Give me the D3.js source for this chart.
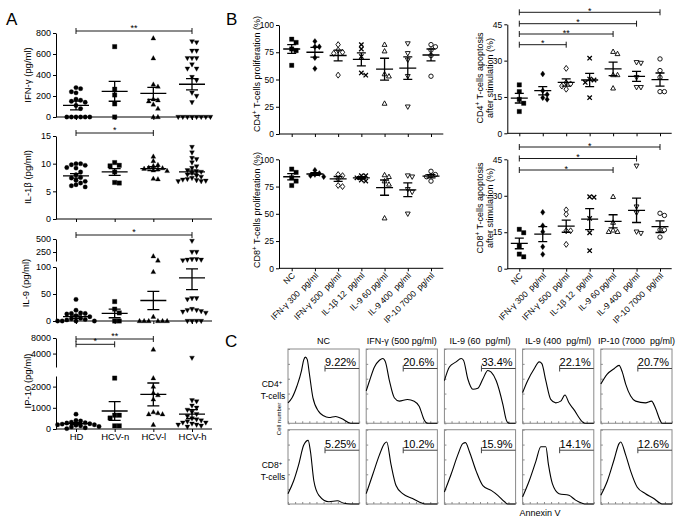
<!DOCTYPE html>
<html>
<head>
<meta charset="utf-8">
<script src="https://cdn.jsdelivr.net/npm/d3@7"></script>
<style>
  body { margin: 0; background: #fff; }
  svg { font-family: 'Liberation Sans', Arial, Helvetica, sans-serif; }
</style>
</head>
<body>
<svg id="fig" width="683" height="524"></svg>
<script>
// ---------- Panel A data (pg/ml) ----------
const groupsA = ['HD', 'HCV-n', 'HCV-l', 'HCV-h'];
const shapesA = ['circle', 'square', 'up', 'down'];

const ifnPoints = [
    [280, 270, 240, 230, 170, 160, 150, 140, 110, 80, 0, 0, 0, 0, 0, 0],
    [670, 265, 210, 125, 0],
    [750, 560, 310, 290, 170, 160, 150, 120, 80, 0, 0],
    [720, 710, 630, 630, 560, 560, 560, 500, 460, 460, 380, 350, 230, 200, 140, 0, 0, 0, 0, 0, 0, 0, 0]
];
const ifnMean = [110, 245, 225, 312];
const ifnSem = [42, 95, 58, 53];

const il1bPoints = [
    [10, 10, 9.8, 9.7, 9.3, 9.2, 8.5, 8, 7.5, 7.4, 7, 6.8, 6.5, 6.2, 6, 5.8],
    [10.2, 9.7, 9.6, 8.5, 6.6, 6.5],
    [11.3, 10.5, 9.8, 9.6, 9.3, 9.2, 9.1, 9.0, 8.8, 8.7, 7.3, 7.2],
    [13, 12, 11, 10.8, 10.2, 9.5, 9.2, 8.8, 8.6, 8.5, 8.3, 8, 7.8, 7.6, 7.4, 7.2, 7.1, 7, 6.9, 6.8, 6.8]
];
const il1bMean = [7.8, 8.5, 9.1, 8.5];
const il1bSem = [0.4, 0.6, 0.35, 0.35];

const il9Points = [
    [40, 20, 15, 14, 14, 13, 10, 8, 5, 4, 3, 2, 0, 0, 0, 0],
    [36, 22, 15, 0, 0],
    [200, 160, 91, 8, 0, 0, 0, 0, 0, 0],
    [450, 250, 250, 170, 170, 165, 165, 160, 42, 42, 40, 22, 20, 20, 18, 17, 15, 0, 0, 0, 0]
];
const il9Mean = [8, 14, 38, 80];
const il9Sem = [3, 8, 17, 22];

const ip10Points = [
    [700, 400, 380, 320, 300, 280, 250, 230, 200, 200, 180, 150, 120, 100, 60, 20],
    [2400, 650, 650, 520, 150, 150],
    [4800, 2400, 2000, 1700, 1600, 1400, 800, 750, 700, 700, 200],
    [3300, 1350, 1300, 1100, 1000, 900, 800, 700, 600, 500, 450, 400, 350, 300, 300, 250, 200, 200, 150, 100]
];
const ip10Mean = [250, 850, 1630, 700];
const ip10Sem = [45, 440, 540, 210];

// ---------- Panel B data (%) ----------
const treatB = ['NC', 'IFN-\u03b3 300\u00a0 pg/ml', 'IFN-\u03b3 500\u00a0 pg/ml', 'IL-1\u03b2 12\u00a0 pg/ml',
    'IL-9 60 pg/ml', 'IL-9 400\u00a0 pg/ml', 'IP-10 7000\u00a0 pg/ml'];
const shapesB = ['square', 'diamond', 'diamond', 'x', 'up', 'down', 'circle'];
const filledB = [true, true, false, false, false, false, false];

const cd4ProPoints = [
    [87, 84, 78, 76.5, 63], [85, 80, 80, 70, 60], [82, 77, 75, 74, 54], [82, 78, 71, 56, 54],
    [82, 76, 55, 53, 28], [83, 74, 68, 53, 25], [82, 80, 77, 72, 53]
];
const cd4ProMean = [78, 75, 72, 68.5, 59.5, 60.5, 72.5];
const cd4ProSem = [4, 4.5, 5, 6, 10, 10.3, 5.5];

const cd8ProPoints = [
    [91, 88, 83, 80, 76], [90, 87, 86, 85, 84], [86, 85, 82, 76, 75], [85, 85, 83, 81, 80],
    [85.6, 84, 80, 77, 46], [85, 84, 72.5, 70, 50], [89, 86, 85, 84, 80]
];
const cd8ProMean = [84, 86.5, 82, 83, 74, 72, 84.5];
const cd8ProSem = [2.8, 1.3, 2.2, 1.1, 7, 6.3, 1.5];

const cd4ApoPoints = [
    [20, 17.2, 14, 12.4, 9], [24.5, 17.6, 16, 14.7, 14], [26.8, 20.9, 20.4, 19.5, 18.2], [31, 22.4, 22, 21, 14.7],
    [33.7, 32.8, 24.1, 24.1, 18.6], [29.3, 29, 23.1, 19, 19], [30.7, 25.9, 23.1, 17.2, 17.2]
];
const cd4ApoMean = [14.5, 17.6, 21, 22, 26.6, 23.5, 22.2];
const cd4ApoSem = [2, 1.7, 1.5, 2.7, 2.8, 2.1, 2.7];

const cd8ApoPoints = [
    [16.2, 14.8, 9.3, 6, 4.9], [23.2, 17.7, 15.2, 9, 5.9], [24.2, 22.4, 15.6, 15.6, 10], [29.6, 29.4, 20.7, 14.8, 7.4],
    [29.6, 19, 15.8, 15.2, 15.2], [42.3, 25.5, 23, 15.2, 14.6], [22.8, 21.9, 16, 16, 13]
];
const cd8ApoMean = [10.4, 14.2, 17.5, 20.4, 19.5, 24, 17.3];
const cd8ApoSem = [2.2, 3.1, 2.5, 4.3, 2.7, 5, 2.4];

// ---------- Panel C data ----------
const titlesC = ['NC', 'IFN-\u03b3 (500 pg/ml)', 'IL-9 (60\u00a0 pg/ml)', 'IL-9 (400\u00a0 pg/ml)', 'IP-10 (7000\u00a0 pg/ml)'];
const cd4Pct = ['9.22%', '20.6%', '33.4%', '22.1%', '20.7%'];
const cd8Pct = ['5.25%', '10.2%', '15.9%', '14.1%', '12.6%'];
// histogram outlines, [annexin (0-1), cell number (0-1)]
const cd4Curves = [
    [[0,0.275],[0.057,0.344],[0.127,0.505],[0.19,0.71],[0.22,0.85],[0.245,0.89],[0.27,0.86],[0.30,0.67],[0.35,0.344],[0.43,0.16],[0.50,0.10],[0.575,0.078],[0.67,0.092],[0.76,0.06],[0.88,0],[1,0]],
    [[0,0.436],[0.047,0.573],[0.116,0.757],[0.186,0.849],[0.233,0.872],[0.27,0.826],[0.326,0.573],[0.395,0.344],[0.465,0.298],[0.58,0.32],[0.674,0.298],[0.744,0.23],[0.814,0.046],[0.84,0.01],[0.87,0],[1,0]],
    [[0,0.573],[0.07,0.757],[0.164,0.826],[0.235,0.872],[0.268,0.849],[0.329,0.596],[0.4,0.459],[0.47,0.472],[0.54,0.596],[0.61,0.711],[0.657,0.688],[0.728,0.573],[0.822,0.252],[0.869,0.046],[0.89,0.01],[0.92,0],[1,0]],
    [[0,0.413],[0.07,0.573],[0.163,0.734],[0.233,0.826],[0.27,0.803],[0.326,0.573],[0.395,0.321],[0.465,0.275],[0.535,0.298],[0.595,0.381],[0.651,0.275],[0.721,0.183],[0.837,0.023],[0.874,0],[1,0]],
    [[0,0.528],[0.093,0.665],[0.186,0.734],[0.256,0.78],[0.302,0.688],[0.349,0.528],[0.419,0.367],[0.488,0.298],[0.628,0.275],[0.712,0.298],[0.767,0.206],[0.837,0.032],[0.86,0],[1,0]]
];
const cd8Curves = [
    [[0,0.139],[0.08,0.313],[0.15,0.53],[0.22,0.79],[0.283,0.857],[0.316,0.704],[0.363,0.313],[0.434,0.117],[0.575,0.03],[0.693,0.043],[0.788,0.009],[0.88,0],[1,0]],
    [[0,0.139],[0.093,0.4],[0.186,0.661],[0.256,0.813],[0.288,0.835],[0.349,0.53],[0.419,0.248],[0.512,0.139],[0.651,0.074],[0.791,0.009],[0.84,0],[1,0]],
    [[0,0.161],[0.094,0.4],[0.188,0.661],[0.258,0.813],[0.296,0.826],[0.352,0.704],[0.446,0.443],[0.54,0.248],[0.657,0.183],[0.75,0.117],[0.845,0.03],[0.89,0],[1,0]],
    [[0,0.096],[0.093,0.313],[0.186,0.574],[0.256,0.77],[0.326,0.77],[0.363,0.53],[0.419,0.27],[0.512,0.139],[0.651,0.117],[0.744,0.052],[0.837,0.009],[0.87,0],[1,0]],
    [[0,0.117],[0.093,0.313],[0.186,0.596],[0.256,0.813],[0.279,0.835],[0.349,0.661],[0.419,0.443],[0.512,0.226],[0.628,0.139],[0.744,0.074],[0.837,0.009],[0.87,0],[1,0]]
];

const svg = d3.select('#fig');

function shapePath(t, r) {
    switch (t) {
        case 'circle': return `M${r},0A${r},${r} 0 1,1 ${-r},0A${r},${r} 0 1,1 ${r},0Z`;
        case 'square': return `M${-r},${-r}H${r}V${r}H${-r}Z`;
        case 'up': return `M0,${-1.2 * r}L${1.1 * r},${0.8 * r}L${-1.1 * r},${0.8 * r}Z`;
        case 'down': return `M0,${1.2 * r}L${1.1 * r},${-0.8 * r}L${-1.1 * r},${-0.8 * r}Z`;
        case 'diamond': return `M0,${-1.35 * r}L${r},0L0,${1.35 * r}L${-r},0Z`;
        case 'x': return `M${-r},${-r}L${r},${r}M${r},${-r}L${-r},${r}`;
    }
}

// spread points that would overlap, like a GraphPad scatter
function swarm(values, cx, yPix, step) {
    const placed = [];
    return values.map(v => {
        const y = yPix(v);
        let k = 0, x;
        while (true) {
            const off = k === 0 ? 0 : (k % 2 ? 1 : -1) * Math.ceil(k / 2) * step;
            x = cx + off;
            if (!placed.some(p => Math.abs(p[0] - x) < step * 0.95 && Math.abs(p[1] - y) < step * 0.95)) break;
            k++;
        }
        placed.push([x, y]);
        return [x, y];
    });
}

function styleAxis(sel, size) {
    sel.attr('font-size', size).attr('font-family', null);
    sel.selectAll('line, path').attr('stroke', '#000');
    sel.selectAll('text').attr('fill', '#000');
}

function dotPlot(c) {
    const g = svg.append('g');
    const x = d3.scalePoint().domain(c.groups).range(c.xr);
    const yPix = v => (c.breakAt !== undefined && v > c.breakAt) ? c.axes[1].scale(v) : c.axes[0].scale(v);
    const base = c.axes[0].scale.range()[0];

    c.axes.forEach(a => {
        g.append('g')
            .attr('transform', `translate(${c.x0},0)`)
            .call(d3.axisLeft(a.scale).tickValues(a.ticks).tickSize(3).tickSizeOuter(0).tickPadding(2).tickFormat(d3.format('d')))
            .call(s => styleAxis(s, c.tickFont));
    });

    g.append('line').attr('x1', c.x0).attr('x2', c.x1).attr('y1', base).attr('y2', base)
        .attr('stroke', '#000');

    g.append('g')
        .attr('transform', `translate(0,${base})`)
        .call(d3.axisBottom(x).tickSize(3).tickPadding(1).tickFormat(c.xLabels === 'plain' ? (d => d) : ''))
        .call(s => s.select('.domain').remove())
        .call(s => styleAxis(s, 9.5));

    if (c.xLabels === 'rotated') {
        g.selectAll('.rot').data(c.groups).enter().append('text')
            .attr('transform', d => `translate(${x(d) + 2},${base + 6}) rotate(-45)`)
            .attr('text-anchor', 'end')
            .attr('dy', '0.3em')
            .attr('font-size', 8.5)
            .text(d => d);
    }

    c.points.forEach((vals, gi) => {
        const pos = swarm(vals, x(c.groups[gi]), yPix, c.step);
        const filled = c.filled ? c.filled[gi] : true;
        const isX = c.shapes[gi] === 'x';
        g.append('g').selectAll('path').data(pos).enter().append('path')
            .attr('transform', d => `translate(${d[0]},${d[1]})`)
            .attr('d', shapePath(c.shapes[gi], c.r))
            .attr('fill', isX ? 'none' : (filled ? '#000' : '#fff'))
            .attr('stroke', '#000')
            .attr('stroke-width', isX ? 1.3 : (filled ? 0.3 : 0.9));
    });

    c.groups.forEach((grp, gi) => {
        const cx = x(grp);
        const m = yPix(c.mean[gi]);
        const hi = yPix(c.mean[gi] + c.sem[gi]);
        const lo = yPix(c.mean[gi] - c.sem[gi]);
        g.append('path')
            .attr('d', `M${cx - c.meanW},${m}H${cx + c.meanW}M${cx},${hi}V${lo}M${cx - c.capW},${hi}H${cx + c.capW}M${cx - c.capW},${lo}H${cx + c.capW}`)
            .attr('fill', 'none').attr('stroke', '#000').attr('stroke-width', 1.3);
    });

    (c.brackets || []).forEach((b, i) => {
        const yb = c.bracketY[i];
        const xa = x(c.groups[b[0]]), xb = x(c.groups[b[1]]);
        g.append('path')
            .attr('d', `M${xa},${yb - 3}V${yb + 3}M${xa},${yb}H${xb}M${xb},${yb - 3}V${yb + 3}`)
            .attr('fill', 'none').attr('stroke', '#000').attr('stroke-width', 0.9);
        g.append('text').attr('x', (xa + xb) / 2).attr('y', yb + c.starDy)
            .attr('text-anchor', 'middle').attr('font-size', 9).text(b[2]);
    });

    c.title.forEach((line, li) => {
        const t = g.append('text')
            .attr('transform', `translate(${c.titleX + li * 10.5},${c.titleY}) rotate(-90)`)
            .attr('text-anchor', 'middle')
            .attr('font-size', c.titleFont);
        line.forEach(part => {
            if (part.sup) t.append('tspan').attr('dy', -3).attr('font-size', c.titleFont * 0.7).text(part.sup);
            else t.append('tspan').attr('dy', part.after ? 3 : 0).text(part.t);
        });
    });
}

// ---------- Panel A ----------
const aCommon = { groups: groupsA, shapes: groupsA.map((d, i) => shapesA[i]), xr: [76, 192], x0: 56, x1: 212,
    r: 2.2, step: 4.6, meanW: 13, capW: 6, tickFont: 9, titleFont: 9.5, titleX: 31, starDy: -0.5 };

dotPlot(Object.assign({}, aCommon, {
    points: ifnPoints, mean: ifnMean, sem: ifnSem,
    axes: [{ scale: d3.scaleLinear().domain([0, 800]).range([117, 33]), ticks: [0, 200, 400, 600, 800] }],
    brackets: [[0, 3, '**']], bracketY: [31],
    title: [[{ t: 'IFN-\u03b3 (pg/ml)' }]], titleY: 75
}));
dotPlot(Object.assign({}, aCommon, {
    points: il1bPoints, mean: il1bMean, sem: il1bSem,
    axes: [{ scale: d3.scaleLinear().domain([0, 15]).range([219, 136]), ticks: [0, 5, 10, 15] }],
    brackets: [[0, 2, '*']], bracketY: [133],
    title: [[{ t: 'IL-1\u03b2 (pg/ml)' }]], titleY: 177
}));
dotPlot(Object.assign({}, aCommon, {
    points: il9Points, mean: il9Mean, sem: il9Sem, breakAt: 100,
    axes: [{ scale: d3.scaleLinear().domain([0, 100]).range([321, 267]), ticks: [0, 50, 100] },
           { scale: d3.scaleLog().domain([155, 500]).range([261, 239]), ticks: [250, 500] }],
    brackets: [[0, 3, '*']], bracketY: [235],
    title: [[{ t: 'IL-9 (pg/ml)' }]], titleY: 283, titleX: 29
}));
dotPlot(Object.assign({}, aCommon, {
    points: ip10Points, mean: ip10Mean, sem: ip10Sem, breakAt: 2500, xLabels: 'plain',
    axes: [{ scale: d3.scaleLinear().domain([0, 2500]).range([429, 376]), ticks: [0, 1000, 2000] },
           { scale: d3.scaleLog().domain([2200, 8000]).range([367, 338]), ticks: [4000, 8000] }],
    brackets: [[0, 2, '**'], [0, 1, '*']], bracketY: [339, 344.3],
    title: [[{ t: 'IP-10 (pg/ml)' }]], titleY: 381
}));

// ---------- Panel B ----------
const bCommon = { groups: treatB, shapes: shapesB, filled: filledB, r: 2.2, step: 4.4,
    meanW: 8.5, capW: 4.5, tickFont: 8.5, titleFont: 9, starDy: 1.5 };
const leftB = { xr: [291.7, 431], x0: 279, x1: 443.3, titleX: 260 };
const rightB = { xr: [519.3, 660], x0: 507.3, x1: 671.7, titleX: 482.5 };

dotPlot(Object.assign({}, bCommon, leftB, {
    points: cd4ProPoints, mean: cd4ProMean, sem: cd4ProSem,
    axes: [{ scale: d3.scaleLinear().domain([0, 100]).range([134, 25]), ticks: [0, 25, 50, 75, 100] }],
    title: [[{ t: 'CD4' }, { sup: '+' }, { t: ' T-cells proliferation (%)', after: true }]], titleY: 74
}));
dotPlot(Object.assign({}, bCommon, leftB, {
    points: cd8ProPoints, mean: cd8ProMean, sem: cd8ProSem, xLabels: 'rotated',
    axes: [{ scale: d3.scaleLinear().domain([0, 100]).range([268.3, 159.3]), ticks: [0, 25, 50, 75, 100] }],
    title: [[{ t: 'CD8' }, { sup: '+' }, { t: ' T-cells proliferation (%)', after: true }]], titleY: 210
}));
dotPlot(Object.assign({}, bCommon, rightB, {
    points: cd4ApoPoints, mean: cd4ApoMean, sem: cd4ApoSem,
    axes: [{ scale: d3.scaleLinear().domain([0, 45]).range([133.3, 24.3]), ticks: [0, 15, 30, 45] }],
    brackets: [[0, 2, '*'], [0, 4, '**'], [0, 5, '*'], [0, 6, '*']], bracketY: [44.7, 34, 23.7, 12.3],
    title: [[{ t: 'CD4' }, { sup: '+' }, { t: ' T-cells  apoptosis', after: true }], [{ t: 'after stimulation (%)' }]], titleY: 78
}));
dotPlot(Object.assign({}, bCommon, rightB, {
    points: cd8ApoPoints, mean: cd8ApoMean, sem: cd8ApoSem, xLabels: 'rotated',
    axes: [{ scale: d3.scaleLinear().domain([0, 45]).range([268.7, 159.3]), ticks: [0, 15, 30, 45] }],
    brackets: [[0, 4, '*'], [0, 5, '*'], [0, 6, '*']], bracketY: [170, 158.5, 147],
    title: [[{ t: 'CD8' }, { sup: '+' }, { t: ' T-cells  apoptosis', after: true }], [{ t: 'after stimulation (%)' }]], titleY: 208
}));

// ---------- Panel C ----------
const colX = d3.scaleBand().domain(d3.range(titlesC.length)).range([288, 672]).paddingInner(0.09);
const rowY = d3.scaleBand().domain([0, 1]).range([349, 504]).paddingInner(0.08);
const gc = svg.append('g');

gc.selectAll('.ctitle').data(titlesC).enter().append('text')
    .attr('x', (d, i) => colX(i) + colX.bandwidth() / 2).attr('y', 344)
    .attr('text-anchor', 'middle').attr('font-size', 9).text(d => d);

[[cd4Curves, cd4Pct], [cd8Curves, cd8Pct]].forEach(([curves, pcts], ri) => {
    const by = rowY(ri), bh = rowY.bandwidth();
    curves.forEach((pts, ci) => {
        const bx = colX(ci), bw = colX.bandwidth();
        const xs = d3.scaleLinear().domain([0, 1]).range([bx, bx + bw]);
        const ys = d3.scaleLinear().domain([0, 1]).range([by + bh, by]);
        const cell = gc.append('g');
        cell.append('rect').attr('x', bx).attr('y', by).attr('width', bw).attr('height', bh)
            .attr('fill', 'none').attr('stroke', '#8a8a8a').attr('stroke-width', 1);
        cell.append('g').attr('transform', `translate(${bx},0)`)
            .call(d3.axisRight(ys).ticks(5).tickSize(2).tickFormat(''))
            .call(s => s.select('.domain').remove())
            .call(s => s.selectAll('line').attr('stroke', '#8a8a8a'));
        cell.append('g').attr('transform', `translate(0,${by + bh})`)
            .call(d3.axisTop(xs).ticks(10).tickSize(2).tickFormat(''))
            .call(s => s.select('.domain').remove())
            .call(s => s.selectAll('line').attr('stroke', '#8a8a8a'));
        cell.append('path')
            .attr('d', d3.line().x(d => xs(d[0])).y(d => ys(d[1])).curve(d3.curveMonotoneX)(pts))
            .attr('fill', 'none').attr('stroke', '#000').attr('stroke-width', 1.1);
        const gy = by + 19.5 + ri;
        cell.append('path')
            .attr('d', `M${xs(0.52)},${gy - 3}V${gy + 3}M${xs(0.52)},${gy}H${xs(1)}`)
            .attr('fill', 'none').attr('stroke', '#444').attr('stroke-width', 1);
        cell.append('text').attr('x', bx + bw - 3).attr('y', by + 17 + ri)
            .attr('text-anchor', 'end').attr('font-size', 11).text(pcts[ci]);
    });
});

[['CD4', 0], ['CD8', 1]].forEach(([lab, ri]) => {
    const cy = rowY(ri) + rowY.bandwidth() / 2;
    const t = gc.append('text').attr('x', 272).attr('y', cy + 1).attr('text-anchor', 'middle').attr('font-size', 8.5);
    t.append('tspan').text(lab);
    t.append('tspan').attr('dy', -3).attr('font-size', 6).text('+');
    gc.append('text').attr('x', 273).attr('y', cy + 13).attr('text-anchor', 'middle').attr('font-size', 8.5).text('T-cells');
});
gc.append('text').attr('transform', 'translate(281,419) rotate(-90)')
    .attr('text-anchor', 'middle').attr('font-size', 6).text('Cell number');
gc.append('text').attr('x', 540).attr('y', 516).attr('text-anchor', 'middle').attr('font-size', 9).text('Annexin V');

// panel letters
[['A', 6, 25], ['B', 226, 25], ['C', 225, 347]].forEach(([l, x, y]) => {
    svg.append('text').attr('x', x).attr('y', y).attr('font-size', 17).text(l);
});
</script>
</body>
</html>
